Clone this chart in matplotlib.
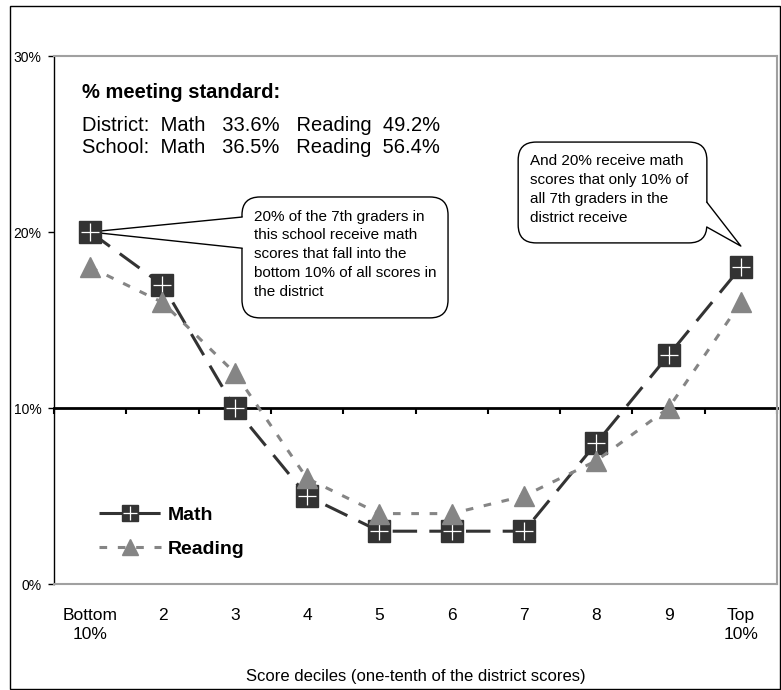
import matplotlib
matplotlib.use("Agg")
import matplotlib.pyplot as plt
import numpy as np
from matplotlib.patches import FancyBboxPatch, Polygon, Rectangle
from matplotlib.lines import Line2D
from matplotlib.legend_handler import HandlerTuple

# chart data
deciles = ["Bottom\n10%", "2", "3", "4", "5", "6", "7", "8", "9", "Top\n10%"]
math_pct = [20, 17, 10, 5, 3, 3, 3, 8, 13, 18]
reading_pct = [18, 16, 12, 6, 4, 4, 5, 7, 10, 16]
y_ticks = [0, 10, 20, 30]
y_ticklabels = ["0%", "10%", "20%", "30%"]
cross_at = 10

header = "% meeting standard:"
district_line = "District:  Math   33.6%   Reading  49.2%"
school_line = "School:  Math   36.5%   Reading  56.4%"
note_bottom = ("20% of the 7th graders in\nthis school receive math\nscores that fall into the\n"
               "bottom 10% of all scores in\nthe district")
note_top = "And 20% receive math\nscores that only 10% of\nall 7th graders in the\ndistrict receive"

DARK = "#333333"
GREY = "#858585"
FRAME = "#a0a0a0"
MATH_DASH = (0, (8, 4))
READ_DASH = (0, (2.5, 3.5))

plt.rcParams["font.family"] = ["Liberation Sans", "DejaVu Sans"]


def callout(ax, box, tip_data, bases, inward, text):
    """ Rounded speech bubble in axes coords with a tail pointing at a data point. """
    x0, y0, x1, y1 = box
    W, H = ax.bbox.width, ax.bbox.height
    bubble = FancyBboxPatch((x0, y0), x1 - x0, y1 - y0,
                            boxstyle="round,pad=0,rounding_size=%f" % (18 / W),
                            mutation_aspect=W / H, transform=ax.transAxes,
                            fc="white", ec="black", lw=1, zorder=1.5, clip_on=False)
    ax.add_patch(bubble)
    tip = ax.transAxes.inverted().transform(ax.transData.transform(tip_data))
    (bx1, by1), (bx2, by2) = bases
    cover = Polygon([(bx1, by1), tip, (bx2, by2), (bx2 + inward, by2), (bx1 + inward, by1)],
                    closed=True, transform=ax.transAxes, fc="white", ec="none",
                    zorder=1.6, clip_on=False)
    ax.add_patch(cover)
    ax.plot([bx1, tip[0], bx2], [by1, tip[1], by2], transform=ax.transAxes,
            color="black", lw=1, zorder=1.7, clip_on=False)
    ax.text(x0 + 12 / W, (y0 + y1) / 2 + 3 / H, text, transform=ax.transAxes,
            ha="left", va="center", fontsize=11, linespacing=1.45, zorder=1.8)


def make_chart():
    fig = plt.figure(figsize=(7.81, 6.90), dpi=100)
    ax = fig.add_axes([54 / 781, 1 - 584 / 690, 723 / 781, 528 / 690])

    x = np.arange(len(deciles))
    ax.set_xlim(-0.5, len(deciles) - 0.5)
    ax.set_ylim(y_ticks[0], y_ticks[-1])

    # series
    ax.plot(x, math_pct, color=DARK, lw=2.2, ls=MATH_DASH,
            marker="s", ms=16, mfc=DARK, mec=DARK, zorder=3)
    ax.plot(x, math_pct, ls="none", marker="+", ms=13, mew=0.9,
            color="white", zorder=3.1)
    ax.plot(x, reading_pct, color=GREY, lw=2.2, ls=READ_DASH,
            marker="^", ms=15, mfc=GREY, mec=GREY, zorder=4)

    # axes styling
    ax.set_xticks(x)
    ax.set_xticklabels(deciles, fontsize=12.5)
    for lbl in ax.get_xticklabels():
        lbl.set_linespacing(1.4)
    ax.tick_params(axis="x", length=0, pad=17)
    ax.set_yticks(y_ticks)
    ax.set_yticklabels(y_ticklabels, fontsize=10)
    ax.tick_params(axis="y", length=4, width=1, pad=5, colors="black")
    ax.set_xlabel("Score deciles (one-tenth of the district scores)", fontsize=12, labelpad=19)

    ax.spines["left"].set_color("black")
    ax.spines["left"].set_linewidth(1)
    for side in ["top", "right", "bottom"]:
        ax.spines[side].set_color(FRAME)
        ax.spines[side].set_linewidth(1.5)

    # category axis crossing at 10%
    ylo, yhi = ax.get_ylim()
    sec = ax.secondary_xaxis((cross_at - ylo) / (yhi - ylo))
    sec.set_xticks(np.arange(-0.5, len(deciles), 1))
    sec.tick_params(axis="x", direction="out", length=4.5, width=1.5, colors="black",
                    labelbottom=False, labeltop=False)
    sec.spines["bottom"].set_linewidth(2)
    sec.spines["bottom"].set_color("black")

    # summary text
    ax.text(0.039, 0.930, header, transform=ax.transAxes, fontsize=14.5,
            fontweight="bold", va="center", ha="left")
    ax.text(0.039, 0.869, district_line, transform=ax.transAxes, fontsize=14.5,
            va="center", ha="left")
    ax.text(0.039, 0.826, school_line, transform=ax.transAxes, fontsize=14.5,
            va="center", ha="left")

    # callouts
    callout(ax, (0.260, 0.504, 0.545, 0.733), (0, math_pct[0]),
            [(0.260, 0.695), (0.260, 0.636)], 0.01, note_bottom)
    callout(ax, (0.642, 0.646, 0.903, 0.837), (len(deciles) - 1, math_pct[-1] + 1.2),
            [(0.903, 0.723), (0.903, 0.676)], -0.01, note_top)

    # legend with smaller markers than the plot
    leg_math = Line2D([], [], color=DARK, lw=2.2, ls=MATH_DASH, marker="s", ms=12,
                      mfc=DARK, mec=DARK)
    leg_plus = Line2D([], [], ls="none", marker="+", ms=10, mew=0.9, color="white")
    leg_read = Line2D([], [], color=GREY, lw=2.2, ls=READ_DASH, marker="^", ms=12,
                      mfc=GREY, mec=GREY)
    ax.legend([(leg_math, leg_plus), leg_read], ["Math", "Reading"],
              handler_map={tuple: HandlerTuple(ndivide=1, pad=0)},
              loc="center left", bbox_to_anchor=(0.062, 0.098), frameon=False,
              prop={"weight": "bold", "size": 14}, handlelength=3.2,
              handletextpad=0.35, labelspacing=0.85, borderpad=0, borderaxespad=0)

    # outer chart border
    fig.add_artist(Rectangle((10 / 781, 1 / 690), 770 / 781, 683 / 690,
                             transform=fig.transFigure, fill=False, ec="black", lw=1))
    return fig, ax


def main():
    fig, ax = make_chart()
    fig.savefig("out.png", dpi=100)


if __name__ == "__main__":
    main()
